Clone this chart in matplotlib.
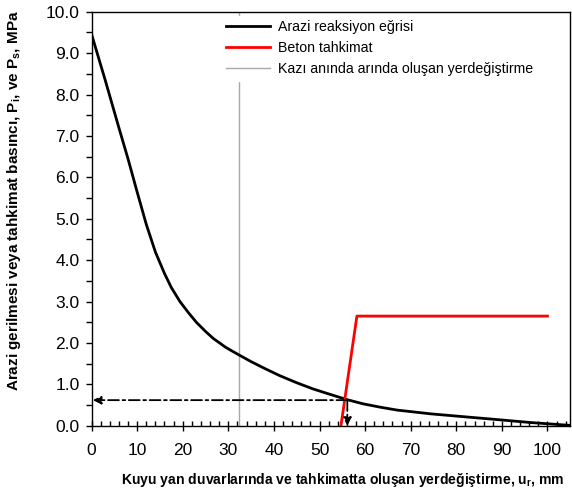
import matplotlib
matplotlib.use("Agg")
import matplotlib.pyplot as plt
from matplotlib.ticker import MultipleLocator, FormatStrFormatter

plt.rcParams["font.family"] = ["Liberation Sans", "DejaVu Sans"]
plt.rcParams["mathtext.default"] = "regular"

# ground reaction curve
u_grc = [0, 3.0, 6.0, 8.0, 10.0, 12.0, 14.0, 16.0, 17.5, 19.4, 21.2, 23.0, 25.0,
         26.7, 29.5, 32.2, 35.0, 37.7, 41.3, 45.0, 48.6, 52.3, 56.1, 59.6, 63.3,
         67.0, 74.3, 81.6, 89.0, 96.2, 105]
p_grc = [9.46, 8.35, 7.20, 6.45, 5.65, 4.87, 4.20, 3.68, 3.34, 3.00, 2.74, 2.50, 2.28,
         2.11, 1.89, 1.72, 1.55, 1.40, 1.21, 1.04, 0.89, 0.76, 0.63, 0.53, 0.45,
         0.38, 0.29, 0.22, 0.15, 0.08, 0.01]

# concrete support
u_sup = [54.7, 58.2, 100]
p_sup = [0.0, 2.65, 2.65]

# displacement at face during excavation
u_face = 32.3

# equilibrium point
u_eq, p_eq = 56.1, 0.62

fig = plt.figure(figsize=(5.72, 4.9), dpi=100)
ax = fig.add_axes([0.160, 0.131, 0.837, 0.845])

ax.plot(u_grc, p_grc, color="black", lw=2.0, label="Arazi reaksiyon eğrisi", zorder=3)
ax.plot(u_sup, p_sup, color="red", lw=2.0, label="Beton tahkimat", zorder=3)
ax.axvline(u_face, color="#a8a8a8", lw=1.0, label="Kazı anında arında oluşan yerdeğiştirme", zorder=1)

arrow = dict(arrowstyle="-|>", color="black", lw=1.3, linestyle=(0, (6, 2, 1.5, 2)),
             mutation_scale=12, shrinkA=0, shrinkB=0)
ax.annotate("", xy=(0.3, p_eq), xytext=(u_eq, p_eq), arrowprops=arrow, zorder=4)
ax.annotate("", xy=(u_eq, 0.0), xytext=(u_eq, p_eq), arrowprops=arrow, zorder=4)

ax.set_xlim(0, 105)
ax.set_ylim(0, 10)
ax.xaxis.set_major_locator(MultipleLocator(10))
ax.xaxis.set_minor_locator(MultipleLocator(2))
ax.yaxis.set_major_locator(MultipleLocator(1))
ax.yaxis.set_minor_locator(MultipleLocator(0.5))
ax.yaxis.set_major_formatter(FormatStrFormatter("%.1f"))
ax.tick_params(axis="x", which="major", direction="inout", length=7, width=1, labelsize=12.5, pad=9)
ax.tick_params(axis="x", which="minor", direction="in", length=3.5, width=1)
ax.tick_params(axis="y", which="major", direction="out", length=4.5, width=1, labelsize=12.5, pad=4)
ax.tick_params(axis="y", which="minor", direction="out", length=4, width=1)
for s in ax.spines.values():
    s.set_linewidth(1.0)
    s.set_zorder(10)

ax.set_xlabel("Kuyu yan duvarlarında ve tahkimatta oluşan yerdeğiştirme, u$_r$, mm",
              fontsize=10.1, fontweight="bold")
ax.set_ylabel("Arazi gerilmesi veya tahkimat basıncı, P$_i$, ve P$_s$, MPa",
              fontsize=11, fontweight="bold")
ax.xaxis.set_label_coords(0.524, -0.108)
ax.yaxis.set_label_coords(-0.143, 0.543)

leg = ax.legend(loc="upper left", bbox_to_anchor=(0.272, 0.99), borderaxespad=0,
                frameon=True, fontsize=10.2, handlelength=3.1, borderpad=0.3,
                labelspacing=0.5, handletextpad=0.6)
leg.get_frame().set_edgecolor("white")
leg.get_frame().set_facecolor("white")
leg.get_frame().set_alpha(1.0)
leg.get_frame().set_boxstyle("square", pad=0.0)
leg.set_zorder(5)

fig.savefig("out.png", dpi=100)
